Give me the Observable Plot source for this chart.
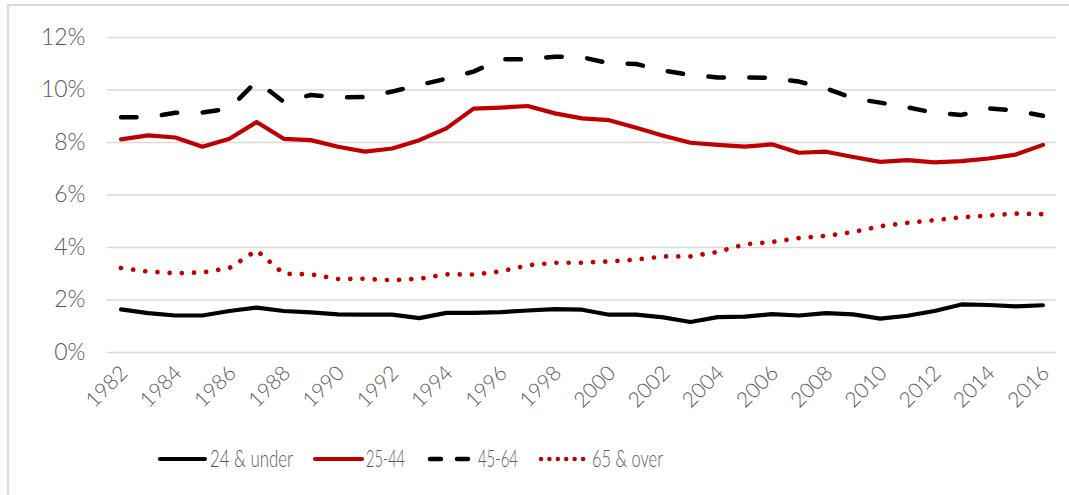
<!DOCTYPE html>
<html><head><meta charset="utf-8">
<script src="https://cdn.jsdelivr.net/npm/d3@7"></script>
<script src="https://cdn.jsdelivr.net/npm/@observablehq/plot@0.6"></script>
<style>
body{margin:0;background:#fff;}
#wrap{position:relative;width:1069px;height:495px;overflow:hidden;font-family:Lato,sans-serif;background:#fff;}
#frame{position:absolute;left:7px;top:4px;width:1200px;height:700px;border-left:2px solid #d9d9d9;border-top:2px solid #d9d9d9;}
#chart{position:absolute;left:0;top:0;}
#legend{position:absolute;left:0;top:425px;}
</style></head><body>
<div id="wrap"><div id="frame"></div><div id="chart"></div><svg id="legend" width="1069" height="70"></svg></div>
<script>
const years = [1982,1983,1984,1985,1986,1987,1988,1989,1990,1991,1992,1993,1994,1995,1996,1997,1998,1999,2000,2001,2002,2003,2004,2005,2006,2007,2008,2009,2010,2011,2012,2013,2014,2015,2016];
const under24 = [1.64,1.50,1.41,1.41,1.58,1.71,1.58,1.53,1.45,1.44,1.44,1.31,1.51,1.51,1.54,1.60,1.65,1.63,1.44,1.44,1.34,1.16,1.35,1.37,1.46,1.41,1.50,1.45,1.29,1.40,1.58,1.83,1.81,1.76,1.80];
const age25_44 = [8.12,8.27,8.19,7.84,8.14,8.78,8.14,8.09,7.84,7.65,7.77,8.09,8.54,9.29,9.33,9.39,9.11,8.92,8.85,8.56,8.26,7.99,7.91,7.84,7.93,7.61,7.65,7.45,7.26,7.33,7.24,7.29,7.39,7.54,7.91];
const age45_64 = [8.96,8.96,9.13,9.14,9.30,10.34,9.55,9.81,9.72,9.73,9.94,10.19,10.43,10.70,11.17,11.17,11.27,11.25,11.02,10.99,10.74,10.57,10.48,10.48,10.46,10.32,10.06,9.68,9.52,9.34,9.13,9.05,9.30,9.21,9.02];
const age65plus = [3.22,3.08,3.02,3.05,3.22,3.89,3.00,2.98,2.80,2.81,2.75,2.81,2.98,2.97,3.09,3.32,3.42,3.42,3.47,3.54,3.66,3.66,3.83,4.12,4.21,4.36,4.44,4.59,4.81,4.94,5.04,5.15,5.22,5.29,5.27];
const seriesNames = ["24 & under","25-44","45-64","65 & over"];
const yTicks = [0,2,4,6,8,10,12];
const xTicks = [1982,1984,1986,1988,1990,1992,1994,1996,1998,2000,2002,2004,2006,2008,2010,2012,2014,2016];

const rows = (vals) => years.map((y,i) => ({year:y, value:vals[i]}));
const grey = "#595959";
const red = "#c00000";

const chart = Plot.plot({
  width: 1069, height: 425,
  marginLeft: 107, marginRight: 13, marginTop: 37, marginBottom: 73,
  style: {fontFamily: "Lato, sans-serif", fontWeight: 300, fontSize: "23px", color: grey, background: "transparent", overflow: "visible"},
  x: {type: "linear", domain: [1981.5, 2016.5], ticks: xTicks, tickFormat: "d"},
  y: {domain: [0, 12], ticks: yTicks},
  marks: [
    Plot.gridY(yTicks, {stroke: "#d9d9d9", strokeOpacity: 1, strokeWidth: 1.5}),
    Plot.axisY(yTicks, {tickSize: 0, tickPadding: 22, tickFormat: d => d + "%", fill: grey, label: null}),
    Plot.axisX(xTicks, {tickSize: 0, tickPadding: 17, dx: 3, tickRotate: -45, tickFormat: "d", fill: grey, label: null, fontSize: 21}),
    Plot.line(rows(under24), {x: "year", y: "value", stroke: "#000", strokeWidth: 4.2, strokeLinejoin: "round", strokeLinecap: "round"}),
    Plot.line(rows(age25_44), {x: "year", y: "value", stroke: red, strokeWidth: 4.2, strokeLinejoin: "round", strokeLinecap: "round"}),
    Plot.line(rows(age45_64), {x: "year", y: "value", stroke: "#000", strokeWidth: 4.5, strokeDasharray: "15.5,25.5", strokeLinejoin: "round", strokeLinecap: "round"}),
    Plot.line(rows(age65plus), {x: "year", y: "value", stroke: red, strokeWidth: 4.7, strokeDasharray: "0.01,12.2", strokeLinejoin: "round", strokeLinecap: "round"})
  ]
});
document.getElementById("chart").appendChild(chart);

// legend
const lg = d3.select("#legend");
const items = [
  {name: seriesNames[0], x1: 160, x2: 205, tx: 210, tw: 83, stroke: "#000", dash: null, w: 4.2},
  {name: seriesNames[1], x1: 315, x2: 362, tx: 366, tw: 39, stroke: red, dash: null, w: 4.2},
  {name: seriesNames[2], x1: 430, x2: 468, tx: 478, tw: 40, stroke: "#000", dash: "11,16", w: 4.5},
  {name: seriesNames[3], x1: 541, x2: 584, tx: 592, tw: 71, stroke: red, dash: "0.01,8.4", w: 4.5}
];
items.forEach(it => {
  lg.append("line").attr("x1", it.x1).attr("x2", it.x2).attr("y1", 34).attr("y2", 34)
    .attr("stroke", it.stroke).attr("stroke-width", it.w).attr("stroke-linecap", "round")
    .attr("stroke-dasharray", it.dash);
  lg.append("text").attr("x", it.tx).attr("y", 42).text(it.name)
    .attr("fill", grey).attr("font-size", 24).attr("font-weight", 300).attr("font-family", "Lato, sans-serif")
    .attr("textLength", it.tw).attr("lengthAdjust", "spacingAndGlyphs");
});
</script>
</body></html>
